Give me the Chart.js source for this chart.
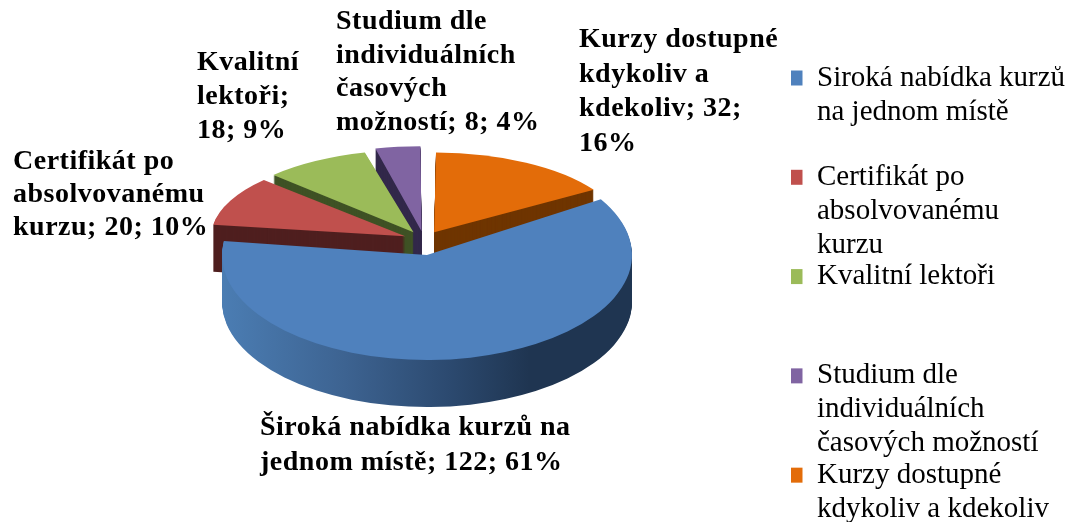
<!DOCTYPE html>
<html><head><meta charset="utf-8">
<style>html,body{margin:0;padding:0;background:#fff}#w{width:1074px;height:522px}</style>
<script src="https://cdn.jsdelivr.net/npm/chart.js@4"></script>
</head><body><div id="w"><canvas id="c"></canvas></div>
<script>
const categories = ["Široká nabídka kurzů na jednom místě","Certifikát po absolvovanému kurzu","Kvalitní lektoři","Studium dle individuálních časových možností","Kurzy dostupné kdykoliv a kdekoliv"];
const values = [122,20,18,8,32];
const legendLines = [["Široká nabídka kurzů","na jednom místě"],["Certifikát po","absolvovanému","kurzu"],["Kvalitní lektoři"],["Studium dle","individuálních","časových možností"],["Kurzy dostupné","kdykoliv a kdekoliv"]];
const labelLines = [["Široká nabídka kurzů na","jednom místě; {v}; {p}%"],["Certifikát po","absolvovanému","kurzu; {v}; {p}%"],["Kvalitní","lektoři;","{v}; {p}%"],["Studium dle","individuálních","časových","možností; {v}; {p}%"],["Kurzy dostupné","kdykoliv a","kdekoliv; {v};","{p}%"]];
const colors = ["#4f81bd","#c0504d","#9bbb59","#8064a2","#e36c09"];
const wallColors = ["#2c4a70","#4f1f1f","#3f5225","#32284a","#6f3500"];

const FONT = '"Liberation Serif","Times New Roman",serif';
const DEPTH = 47, R = 100;
// pseudo-3D projection: near (front) slice and far (back) slices
const near = {cx:427, cy:255, rx:205, ry:105};
const far  = {cx:424, cy:240, rx:189, ry:80};
const drawOrder = [4,3,2,1,0];
const labelPos = [{x:260,y:428,lh:35},{x:13,y:162,lh:33},{x:197,y:63,lh:34},{x:336,y:22,lh:33.5},{x:579,y:40,lh:34.5}];

const pie3d = {
  id:'pie3d',
  afterLayout(chart){
    const l = chart.legend, w = l.width;
    l.left = 791; l.right = l.left + w; l.top = 66; l.bottom = 640;
  },
  beforeDatasetDraw(chart){
    const ctx = chart.ctx, arcs = chart.getDatasetMeta(0).data;
    drawOrder.forEach(i=>{
      const el = arcs[i], base = el.options, p = i===0 ? near : far;
      const rad = R + (base.offset ? 2 : 0);
      const sx = p.rx/rad, sy = p.ry/rad;
      let wall = wallColors[i];
      if(i===0){
        const g = ctx.createLinearGradient(el.x-p.rx/sx, 0, el.x+p.rx/sx, 0);
        g.addColorStop(0,'#4b7db3'); g.addColorStop(.3,'#3d6391'); g.addColorStop(.55,'#2c4a70');
        g.addColorStop(.75,'#1f3551'); g.addColorStop(1,'#1f3551');
        wall = g;
      }
      for(let d=DEPTH; d>=0; d--){
        ctx.save();
        ctx.translate(p.cx, p.cy+d); ctx.scale(sx,sy); ctx.translate(-el.x,-el.y);
        const fill = d===0 ? colors[i] : wall;
        const saved = el.options;
        el.options = Object.create(base,{backgroundColor:{value:fill}});
        el.draw(ctx);
        el.options = saved;
        ctx.restore();
      }
    });
    return false;
  },
  afterDatasetsDraw(chart){
    const ctx = chart.ctx, total = values.reduce((a,b)=>a+b,0);
    ctx.save();
    ctx.font = 'bold 28px '+FONT; ctx.fillStyle='#000'; ctx.textBaseline='middle'; ctx.textAlign='left';
    ctx.letterSpacing='0.5px';
    labelLines.forEach((lines,i)=>{
      lines.forEach((t,j)=>{
        const s = t.replace('{v}',values[i]).replace('{p}',Math.round(values[i]/total*100));
        ctx.fillText(s,labelPos[i].x,labelPos[i].y+j*labelPos[i].lh);
      });
    });
    ctx.restore();
  }
};

new Chart(document.getElementById('c'),{
  type:'pie',
  data:{labels:categories,datasets:[{data:values,backgroundColor:colors,borderWidth:0,offset:[0,45,45,45,45]}]},
  plugins:[pie3d],
  options:{
    responsive:true,maintainAspectRatio:false,animation:false,
    rotation:58,radius:R,
    plugins:{
      tooltip:{enabled:false},
      legend:{
        position:'right',align:'start',
        labels:{
          boxWidth:14,boxHeight:15,padding:-2.5,color:'#000',
          font:{family:FONT,size:29,lineHeight:1.17},
          generateLabels(){
            return legendLines.map((l,i)=>({text:[...l,...Array(3-l.length).fill('')],fillStyle:colors[i],strokeStyle:colors[i],lineWidth:0,index:i}));
          }
        }
      }
    }
  }
});
</script></body></html>
